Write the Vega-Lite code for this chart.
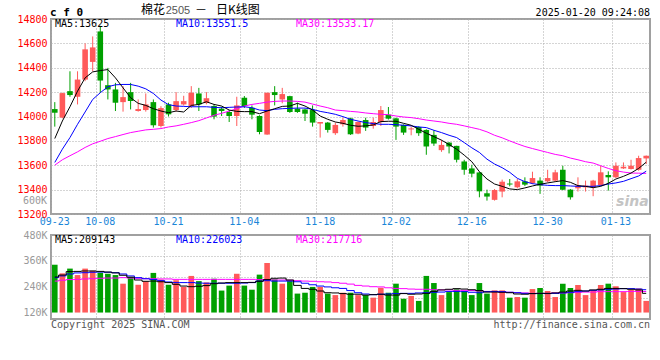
{
"$schema": "https://vega.github.io/schema/vega-lite/v6.json",
"background": "white",
"padding": {"left": 15, "top": 3, "right": 0, "bottom": 0},
"bounds": "flush",
"spacing": 21,
"config": {"view": {"stroke": "#a0a0a0", "strokeWidth": 2}, "text": {"font": "DejaVu Sans Mono"}},
"datasets": {"k": [
{"d":"09-23","o":14061,"h":14118,"l":13917,"c":14031,"m5":13819,"m10":13623,"m30":13601,"v":342000,"vm5":285000,"vm10":282000,"vm30":266000},
{"d":"09-24","o":13991,"h":14195,"l":13985,"c":14192,"m5":13963,"m10":13732,"m30":13645,"v":302000,"vm5":294000,"vm10":290000,"vm30":270000},
{"d":"09-25","o":14208,"h":14371,"l":14162,"c":14176,"m5":14080,"m10":13827,"m30":13678,"v":324000,"vm5":310000,"vm10":299000,"vm30":273000},
{"d":"09-26","o":14162,"h":14371,"l":14099,"c":14303,"m5":14208,"m10":13936,"m30":13710,"v":294000,"vm5":311000,"vm10":304000,"vm30":274000},
{"d":"09-27","o":14303,"h":14600,"l":14290,"c":14551,"m5":14317,"m10":14037,"m30":13746,"v":324000,"vm5":313000,"vm10":305000,"vm30":276000},
{"d":"09-30","o":14448,"h":14657,"l":14371,"c":14567,"m5":14366,"m10":14140,"m30":13776,"v":314000,"vm5":313000,"vm10":307000,"vm30":277000},
{"d":"10-08","o":14698,"h":14744,"l":14195,"c":14295,"m5":14377,"m10":14195,"m30":13797,"v":305000,"vm5":311000,"vm10":308000,"vm30":279000},
{"d":"10-09","o":14257,"h":14399,"l":14140,"c":14222,"m5":14385,"m10":14244,"m30":13819,"v":300000,"vm5":308000,"vm10":307000,"vm30":280000},
{"d":"10-10","o":14222,"h":14276,"l":14045,"c":14113,"m5":14317,"m10":14260,"m30":13835,"v":294000,"vm5":304000,"vm10":305000,"vm30":280000},
{"d":"10-11","o":14118,"h":14249,"l":14040,"c":14159,"m5":14235,"m10":14263,"m30":13852,"v":254000,"vm5":293000,"vm10":299000,"vm30":282000},
{"d":"10-14","o":14200,"h":14276,"l":14058,"c":14127,"m5":14154,"m10":14263,"m30":13868,"v":285000,"vm5":284000,"vm10":290000,"vm30":280000},
{"d":"10-15","o":14045,"h":14140,"l":14040,"c":14061,"m5":14108,"m10":14249,"m30":13879,"v":249000,"vm5":271000,"vm10":282000,"vm30":279000},
{"d":"10-16","o":14053,"h":14189,"l":14040,"c":14099,"m5":14091,"m10":14227,"m30":13890,"v":265000,"vm5":265000,"vm10":277000,"vm30":277000},
{"d":"10-17","o":14118,"h":14140,"l":13909,"c":13928,"m5":14064,"m10":14189,"m30":13895,"v":304000,"vm5":266000,"vm10":273000,"vm30":277000},
{"d":"10-18","o":13922,"h":14085,"l":13909,"c":14069,"m5":14045,"m10":14135,"m30":13901,"v":273000,"vm5":263000,"vm10":268000,"vm30":276000},
{"d":"10-21","o":14099,"h":14113,"l":14000,"c":14018,"m5":14031,"m10":14097,"m30":13914,"v":249000,"vm5":259000,"vm10":262000,"vm30":276000},
{"d":"10-22","o":14053,"h":14200,"l":14040,"c":14126,"m5":14045,"m10":14086,"m30":13923,"v":270000,"vm5":251000,"vm10":259000,"vm30":274000},
{"d":"10-23","o":14099,"h":14170,"l":14090,"c":14126,"m5":14037,"m10":14083,"m30":13936,"v":239000,"vm5":243000,"vm10":259000,"vm30":274000},
{"d":"10-24","o":14085,"h":14249,"l":14070,"c":14195,"m5":14091,"m10":14080,"m30":13950,"v":290000,"vm5":240000,"vm10":259000,"vm30":274000},
{"d":"10-25","o":14189,"h":14235,"l":14045,"c":14099,"m5":14099,"m10":14080,"m30":13966,"v":266000,"vm5":242000,"vm10":257000,"vm30":274000},
{"d":"10-28","o":14110,"h":14200,"l":14100,"c":14150,"m5":14121,"m10":14080,"m30":13988,"v":260000,"vm5":245000,"vm10":256000,"vm30":274000},
{"d":"10-29","o":14086,"h":14099,"l":13977,"c":13999,"m5":14099,"m10":14075,"m30":14010,"v":277000,"vm5":254000,"vm10":256000,"vm30":274000},
{"d":"10-30","o":14064,"h":14080,"l":14004,"c":14045,"m5":14086,"m10":14072,"m30":14026,"v":222000,"vm5":257000,"vm10":256000,"vm30":274000},
{"d":"10-31","o":14037,"h":14053,"l":13955,"c":14004,"m5":14053,"m10":14075,"m30":14045,"v":245000,"vm5":259000,"vm10":256000,"vm30":274000},
{"d":"11-01","o":14004,"h":14162,"l":13922,"c":14091,"m5":14042,"m10":14078,"m30":14064,"v":300000,"vm5":259000,"vm10":256000,"vm30":274000},
{"d":"11-04","o":14154,"h":14168,"l":14070,"c":14086,"m5":14040,"m10":14080,"m30":14086,"v":245000,"vm5":259000,"vm10":257000,"vm30":274000},
{"d":"11-05","o":14072,"h":14091,"l":13977,"c":14015,"m5":14040,"m10":14072,"m30":14099,"v":226000,"vm5":260000,"vm10":259000,"vm30":274000},
{"d":"11-06","o":14004,"h":14010,"l":13854,"c":13873,"m5":14023,"m10":14053,"m30":14108,"v":296000,"vm5":265000,"vm10":266000,"vm30":273000},
{"d":"11-07","o":13852,"h":14195,"l":13850,"c":14195,"m5":14045,"m10":14048,"m30":14118,"v":350000,"vm5":273000,"vm10":268000,"vm30":273000},
{"d":"11-08","o":14200,"h":14249,"l":14091,"c":14176,"m5":14064,"m10":14059,"m30":14124,"v":274000,"vm5":279000,"vm10":266000,"vm30":271000},
{"d":"11-11","o":14140,"h":14235,"l":14108,"c":14184,"m5":14083,"m10":14064,"m30":14127,"v":254000,"vm5":280000,"vm10":266000,"vm30":271000},
{"d":"11-12","o":14167,"h":14170,"l":14030,"c":14037,"m5":14086,"m10":14067,"m30":14127,"v":266000,"vm5":271000,"vm10":266000,"vm30":270000},
{"d":"11-13","o":14064,"h":14113,"l":14030,"c":14037,"m5":14108,"m10":14069,"m30":14124,"v":208000,"vm5":246000,"vm10":263000,"vm30":268000},
{"d":"11-14","o":14058,"h":14064,"l":13963,"c":14023,"m5":14086,"m10":14069,"m30":14118,"v":212000,"vm5":232000,"vm10":256000,"vm30":266000},
{"d":"11-15","o":14053,"h":14091,"l":13917,"c":13950,"m5":14053,"m10":14059,"m30":14102,"v":239000,"vm5":228000,"vm10":249000,"vm30":265000},
{"d":"11-18","o":13942,"h":13955,"l":13827,"c":13955,"m5":14004,"m10":14042,"m30":14086,"v":239000,"vm5":220000,"vm10":243000,"vm30":263000},
{"d":"11-19","o":13950,"h":13955,"l":13868,"c":13890,"m5":13977,"m10":14031,"m30":14072,"v":208000,"vm5":212000,"vm10":239000,"vm30":262000},
{"d":"11-20","o":13863,"h":13950,"l":13849,"c":13931,"m5":13955,"m10":14018,"m30":14053,"v":201000,"vm5":211000,"vm10":235000,"vm30":259000},
{"d":"11-21","o":13936,"h":13990,"l":13917,"c":13971,"m5":13944,"m10":13999,"m30":14048,"v":212000,"vm5":208000,"vm10":232000,"vm30":256000},
{"d":"11-22","o":13985,"h":13990,"l":13849,"c":13854,"m5":13928,"m10":13977,"m30":14042,"v":212000,"vm5":205000,"vm10":222000,"vm30":252000},
{"d":"11-25","o":13860,"h":13960,"l":13855,"c":13955,"m5":13920,"m10":13963,"m30":14037,"v":201000,"vm5":205000,"vm10":212000,"vm30":246000},
{"d":"11-26","o":13971,"h":13990,"l":13882,"c":13909,"m5":13923,"m10":13950,"m30":14029,"v":201000,"vm5":201000,"vm10":206000,"vm30":243000},
{"d":"11-27","o":13922,"h":13990,"l":13900,"c":13955,"m5":13931,"m10":13942,"m30":14023,"v":189000,"vm5":203000,"vm10":203000,"vm30":240000},
{"d":"11-28","o":13955,"h":14086,"l":13922,"c":14053,"m5":13958,"m10":13936,"m30":14018,"v":235000,"vm5":205000,"vm10":205000,"vm30":239000},
{"d":"11-29","o":14015,"h":14078,"l":13975,"c":13982,"m5":13961,"m10":13936,"m30":14015,"v":212000,"vm5":201000,"vm10":206000,"vm30":235000},
{"d":"12-02","o":13985,"h":13990,"l":13808,"c":13917,"m5":13961,"m10":13933,"m30":14004,"v":254000,"vm5":201000,"vm10":208000,"vm30":232000},
{"d":"12-03","o":13931,"h":13935,"l":13849,"c":13868,"m5":13944,"m10":13928,"m30":13996,"v":184000,"vm5":208000,"vm10":209000,"vm30":231000},
{"d":"12-04","o":13894,"h":13917,"l":13846,"c":13902,"m5":13928,"m10":13923,"m30":13991,"v":197000,"vm5":205000,"vm10":209000,"vm30":229000},
{"d":"12-05","o":13914,"h":13920,"l":13841,"c":13863,"m5":13895,"m10":13914,"m30":13982,"v":174000,"vm5":206000,"vm10":211000,"vm30":228000},
{"d":"12-06","o":13890,"h":13895,"l":13686,"c":13754,"m5":13863,"m10":13909,"m30":13971,"v":290000,"vm5":209000,"vm10":212000,"vm30":228000},
{"d":"12-09","o":13849,"h":13887,"l":13759,"c":13778,"m5":13835,"m10":13887,"m30":13963,"v":257000,"vm5":218000,"vm10":214000,"vm30":226000},
{"d":"12-10","o":13724,"h":13808,"l":13710,"c":13767,"m5":13806,"m10":13868,"m30":13955,"v":201000,"vm5":225000,"vm10":215000,"vm30":225000},
{"d":"12-11","o":13786,"h":13790,"l":13697,"c":13754,"m5":13770,"m10":13846,"m30":13944,"v":215000,"vm5":228000,"vm10":218000,"vm30":225000},
{"d":"12-12","o":13759,"h":13760,"l":13623,"c":13645,"m5":13732,"m10":13827,"m30":13936,"v":228000,"vm5":231000,"vm10":218000,"vm30":223000},
{"d":"12-13","o":13631,"h":13645,"l":13522,"c":13563,"m5":13683,"m10":13786,"m30":13923,"v":220000,"vm5":229000,"vm10":217000,"vm30":223000},
{"d":"12-16","o":13574,"h":13604,"l":13501,"c":13531,"m5":13629,"m10":13743,"m30":13909,"v":201000,"vm5":226000,"vm10":214000,"vm30":222000},
{"d":"12-17","o":13541,"h":13545,"l":13337,"c":13386,"m5":13547,"m10":13705,"m30":13895,"v":257000,"vm5":222000,"vm10":212000,"vm30":220000},
{"d":"12-18","o":13370,"h":13400,"l":13310,"c":13343,"m5":13487,"m10":13650,"m30":13874,"v":208000,"vm5":215000,"vm10":217000,"vm30":218000},
{"d":"12-19","o":13316,"h":13405,"l":13310,"c":13397,"m5":13446,"m10":13610,"m30":13846,"v":223000,"vm5":215000,"vm10":218000,"vm30":217000},
{"d":"12-20","o":13384,"h":13482,"l":13337,"c":13465,"m5":13427,"m10":13580,"m30":13825,"v":223000,"vm5":214000,"vm10":217000,"vm30":215000},
{"d":"12-23","o":13450,"h":13487,"l":13427,"c":13442,"m5":13406,"m10":13542,"m30":13800,"v":189000,"vm5":212000,"vm10":214000,"vm30":214000},
{"d":"12-24","o":13419,"h":13487,"l":13410,"c":13468,"m5":13400,"m10":13493,"m30":13776,"v":192000,"vm5":206000,"vm10":212000,"vm30":212000},
{"d":"12-25","o":13468,"h":13501,"l":13430,"c":13441,"m5":13414,"m10":13465,"m30":13754,"v":189000,"vm5":205000,"vm10":209000,"vm30":211000},
{"d":"12-26","o":13454,"h":13547,"l":13445,"c":13495,"m5":13430,"m10":13449,"m30":13737,"v":229000,"vm5":208000,"vm10":208000,"vm30":209000},
{"d":"12-27","o":13474,"h":13501,"l":13365,"c":13433,"m5":13444,"m10":13441,"m30":13721,"v":234000,"vm5":209000,"vm10":208000,"vm30":209000},
{"d":"12-30","o":13468,"h":13563,"l":13460,"c":13495,"m5":13455,"m10":13435,"m30":13705,"v":220000,"vm5":209000,"vm10":208000,"vm30":209000},
{"d":"12-31","o":13474,"h":13563,"l":13465,"c":13542,"m5":13465,"m10":13433,"m30":13689,"v":192000,"vm5":211000,"vm10":209000,"vm30":211000},
{"d":"01-02","o":13563,"h":13596,"l":13395,"c":13400,"m5":13474,"m10":13433,"m30":13678,"v":254000,"vm5":215000,"vm10":211000,"vm30":211000},
{"d":"01-03","o":13400,"h":13405,"l":13318,"c":13337,"m5":13460,"m10":13430,"m30":13659,"v":234000,"vm5":220000,"vm10":214000,"vm30":212000},
{"d":"01-06","o":13411,"h":13501,"l":13384,"c":13433,"m5":13433,"m10":13427,"m30":13645,"v":248000,"vm5":223000,"vm10":217000,"vm30":214000},
{"d":"01-07","o":13419,"h":13474,"l":13384,"c":13433,"m5":13427,"m10":13427,"m30":13629,"v":201000,"vm5":220000,"vm10":220000,"vm30":215000},
{"d":"01-08","o":13419,"h":13480,"l":13346,"c":13474,"m5":13416,"m10":13427,"m30":13618,"v":223000,"vm5":225000,"vm10":223000,"vm30":215000},
{"d":"01-09","o":13438,"h":13596,"l":13430,"c":13542,"m5":13427,"m10":13433,"m30":13596,"v":248000,"vm5":228000,"vm10":225000,"vm30":217000},
{"d":"01-10","o":13520,"h":13550,"l":13392,"c":13501,"m5":13452,"m10":13446,"m30":13574,"v":254000,"vm5":232000,"vm10":228000,"vm30":217000},
{"d":"01-13","o":13501,"h":13623,"l":13495,"c":13596,"m5":13487,"m10":13455,"m30":13555,"v":242000,"vm5":232000,"vm10":229000,"vm30":217000},
{"d":"01-14","o":13574,"h":13623,"l":13570,"c":13588,"m5":13509,"m10":13468,"m30":13544,"v":215000,"vm5":231000,"vm10":231000,"vm30":217000},
{"d":"01-15","o":13569,"h":13645,"l":13565,"c":13596,"m5":13536,"m10":13490,"m30":13536,"v":226000,"vm5":228000,"vm10":231000,"vm30":218000},
{"d":"01-16","o":13563,"h":13678,"l":13555,"c":13659,"m5":13574,"m10":13512,"m30":13535,"v":232000,"vm5":225000,"vm10":229000,"vm30":218000},
{"d":"01-17","o":13656,"h":13680,"l":13610,"c":13678,"m5":13625,"m10":13551.5,"m30":13533.17,"v":174000,"vm5":209143,"vm10":226023,"vm30":217716}
]},
"vconcat": [
{
 "width": 599, "height": 195,
 "resolve": {"axis": {"x": "independent", "y": "independent"}},
 "layer": [
  {"data": {"name": "k"},
   "mark": {"type": "rule", "strokeWidth": 1},
   "encoding": {
    "x": {"field": "d", "type": "ordinal",
          "scale": {"type": "band", "paddingInner": 0, "paddingOuter": 0, "domain": ["09-23","09-24","09-25","09-26","09-27","09-30","10-08","10-09","10-10","10-11","10-14","10-15","10-16","10-17","10-18","10-21","10-22","10-23","10-24","10-25","10-28","10-29","10-30","10-31","11-01","11-04","11-05","11-06","11-07","11-08","11-11","11-12","11-13","11-14","11-15","11-18","11-19","11-20","11-21","11-22","11-25","11-26","11-27","11-28","11-29","12-02","12-03","12-04","12-05","12-06","12-09","12-10","12-11","12-12","12-13","12-16","12-17","12-18","12-19","12-20","12-23","12-24","12-25","12-26","12-27","12-30","12-31","01-02","01-03","01-06","01-07","01-08","01-09","01-10","01-13","01-14","01-15","01-16","01-17"]},
          "axis": {"values": ["09-23","10-08","10-21","11-04","11-18","12-02","12-16","12-30","01-13"], "bandPosition": 0, "grid": true, "gridColor": "#aaaaaa", "gridDash": [1, 2], "domain": false, "ticks": false, "labelColor": "#1a86d8", "labelFont": "DejaVu Sans Mono", "labelFontSize": 10, "labelPadding": 2, "labelAngle": 0, "title": null, "labelOverlap": false, "labelFlush": false, "labelBound": false}},
    "y": {"field": "l", "type": "quantitative",
          "scale": {"domain": [13200, 14800], "zero": false, "nice": false},
          "axis": {"values": [13200, 13400, 13600, 13800, 14000, 14200, 14400, 14600, 14800], "grid": true, "gridColor": "#aaaaaa", "gridDash": [1, 2], "domain": false, "ticks": false, "labelColor": "#ff0000", "labelFont": "DejaVu Sans Mono", "labelFontSize": 10, "labelPadding": 4, "title": null, "labelFlush": false, "labelBound": false, "labelOverlap": false, "format": "d"}},
    "y2": {"field": "h"},
    "color": {"condition": {"test": "datum.c >= datum.o", "value": "#ff5a5a"}, "value": "#00a000"}
   }},
  {"data": {"values": [{}]},
   "mark": {"type": "text", "text": "sina", "align": "left", "baseline": "middle", "dx": 4, "font": "DejaVu Sans", "fontSize": 14, "fontStyle": "italic", "fontWeight": "bold", "color": "#c4c4c4"},
   "encoding": {
    "x": {"datum": "01-13", "type": "ordinal", "bandPosition": 0, "axis": null},
    "y": {"datum": 13300, "type": "quantitative", "axis": null}
   }},
  {"data": {"name": "k"},
   "mark": {"type": "bar", "size": 5.6},
   "encoding": {
    "x": {"field": "d", "type": "ordinal", "axis": null},
    "y": {"field": "o", "type": "quantitative", "axis": null},
    "y2": {"field": "c"},
    "color": {"condition": {"test": "datum.c >= datum.o", "value": "#ff5a5a"}, "value": "#00a000"}
   }},
  {"data": {"name": "k"},
   "mark": {"type": "line", "color": "#ff00ff", "strokeWidth": 1},
   "encoding": {"x": {"field": "d", "type": "ordinal", "axis": null}, "y": {"field": "m30", "type": "quantitative", "axis": null}}},
  {"data": {"name": "k"},
   "mark": {"type": "line", "color": "#0000ff", "strokeWidth": 1},
   "encoding": {"x": {"field": "d", "type": "ordinal", "axis": null}, "y": {"field": "m10", "type": "quantitative", "axis": null}}},
  {"data": {"name": "k"},
   "mark": {"type": "line", "color": "#000000", "strokeWidth": 1},
   "encoding": {"x": {"field": "d", "type": "ordinal", "axis": null}, "y": {"field": "m5", "type": "quantitative", "axis": null}}},
  {"data": {"values": [{}]},
   "mark": {"type": "text", "text": "MA5:13625", "align": "left", "baseline": "middle", "dx": 4, "dy": 5, "fontSize": 10, "color": "#000000"},
   "encoding": {"x": {"datum": "09-23", "type": "ordinal", "bandPosition": 0, "axis": null}, "y": {"datum": 14800, "type": "quantitative", "axis": null}}},
  {"data": {"values": [{}]},
   "mark": {"type": "text", "text": "MA10:13551.5", "align": "left", "baseline": "middle", "dx": 3.7, "dy": 5, "fontSize": 10, "color": "#0000ff"},
   "encoding": {"x": {"datum": "10-22", "type": "ordinal", "bandPosition": 0, "axis": null}, "y": {"datum": 14800, "type": "quantitative", "axis": null}}},
  {"data": {"values": [{}]},
   "mark": {"type": "text", "text": "MA30:13533.17", "align": "left", "baseline": "middle", "dx": 2.4, "dy": 5, "fontSize": 10, "color": "#ff00ff"},
   "encoding": {"x": {"datum": "11-13", "type": "ordinal", "bandPosition": 0, "axis": null}, "y": {"datum": 14800, "type": "quantitative", "axis": null}}},
  {"data": {"values": [{}]},
   "mark": {"type": "text", "text": "c f 0", "align": "left", "baseline": "middle", "dx": -1, "dy": -6, "fontSize": 11, "fontWeight": "bold", "color": "#000000"},
   "encoding": {"x": {"datum": "09-23", "type": "ordinal", "bandPosition": 0, "axis": null}, "y": {"datum": 14800, "type": "quantitative", "axis": null}}},
  {"data": {"values": [{}]},
   "mark": {"type": "text", "text": "棉花", "align": "left", "baseline": "middle", "dx": -1, "dy": -9, "font": "Noto Sans CJK SC", "fontSize": 12, "color": "#000000"},
   "encoding": {"x": {"datum": "10-16", "type": "ordinal", "bandPosition": 0, "axis": null}, "y": {"datum": 14800, "type": "quantitative", "axis": null}}},
  {"data": {"values": [{}]},
   "mark": {"type": "text", "text": "2505", "align": "left", "baseline": "middle", "dx": 1, "dy": -8.5, "font": "Liberation Sans", "fontSize": 11, "color": "#555555"},
   "encoding": {"x": {"datum": "10-21", "type": "ordinal", "bandPosition": 0, "axis": null}, "y": {"datum": 14800, "type": "quantitative", "axis": null}}},
  {"data": {"values": [{}]},
   "mark": {"type": "text", "text": "－", "align": "center", "baseline": "middle", "dx": -1.6, "dy": -9, "font": "Noto Sans CJK SC", "fontSize": 12, "color": "#000000"},
   "encoding": {"x": {"datum": "10-28", "type": "ordinal", "bandPosition": 0, "axis": null}, "y": {"datum": 14800, "type": "quantitative", "axis": null}}},
  {"data": {"values": [{}]},
   "mark": {"type": "text", "text": "日K线图", "align": "left", "baseline": "middle", "dx": -1.8, "dy": -9, "font": "Noto Sans CJK SC", "fontSize": 12, "color": "#000000"},
   "encoding": {"x": {"datum": "10-30", "type": "ordinal", "bandPosition": 0, "axis": null}, "y": {"datum": 14800, "type": "quantitative", "axis": null}}},
  {"data": {"values": [{}]},
   "mark": {"type": "text", "text": "2025-01-20 09:24:08", "align": "right", "baseline": "middle", "dy": -6.5, "fontSize": 10, "color": "#000000"},
   "encoding": {"x": {"datum": "01-17", "type": "ordinal", "bandPosition": 1, "axis": null}, "y": {"datum": 14800, "type": "quantitative", "axis": null}}},
  {"data": {"values": [{}]},
   "mark": {"type": "text", "text": "600K", "align": "right", "baseline": "middle", "dx": -4, "fontSize": 10, "color": "#999999"},
   "encoding": {"x": {"datum": "09-23", "type": "ordinal", "bandPosition": 0, "axis": null}, "y": {"datum": 13310, "type": "quantitative", "axis": null}}}
 ]
},
{
 "width": 599, "height": 84,
 "resolve": {"axis": {"x": "independent", "y": "independent"}},
 "layer": [
  {"data": {"name": "k"},
   "mark": {"type": "bar", "size": 5.6},
   "encoding": {
    "x": {"field": "d", "type": "ordinal",
          "scale": {"type": "band", "paddingInner": 0, "paddingOuter": 0, "domain": ["09-23","09-24","09-25","09-26","09-27","09-30","10-08","10-09","10-10","10-11","10-14","10-15","10-16","10-17","10-18","10-21","10-22","10-23","10-24","10-25","10-28","10-29","10-30","10-31","11-01","11-04","11-05","11-06","11-07","11-08","11-11","11-12","11-13","11-14","11-15","11-18","11-19","11-20","11-21","11-22","11-25","11-26","11-27","11-28","11-29","12-02","12-03","12-04","12-05","12-06","12-09","12-10","12-11","12-12","12-13","12-16","12-17","12-18","12-19","12-20","12-23","12-24","12-25","12-26","12-27","12-30","12-31","01-02","01-03","01-06","01-07","01-08","01-09","01-10","01-13","01-14","01-15","01-16","01-17"]},
          "axis": {"values": ["09-23","10-08","10-21","11-04","11-18","12-02","12-16","12-30","01-13"], "bandPosition": 0, "grid": true, "gridColor": "#aaaaaa", "gridDash": [1, 2], "domain": false, "ticks": false, "labels": false, "title": null}},
    "y": {"field": "v", "type": "quantitative",
          "scale": {"domain": [90000, 480000], "zero": false, "nice": false},
          "axis": {"values": [120000, 240000, 360000, 480000], "labelExpr": "(datum.value / 1000) + 'K'", "grid": false, "domain": false, "ticks": false, "labelColor": "#999999", "labelFont": "DejaVu Sans Mono", "labelFontSize": 10, "labelPadding": 4, "title": null, "labelFlush": false, "labelBound": false, "labelOverlap": false}},
    "y2": {"datum": 120000},
    "color": {"condition": {"test": "datum.c >= datum.o", "value": "#ff5a5a"}, "value": "#00a000"}
   }},
  {"data": {"name": "k"},
   "mark": {"type": "line", "color": "#ff00ff", "strokeWidth": 1, "interpolate": "step"},
   "encoding": {"x": {"field": "d", "type": "ordinal", "axis": null},
    "y": {"field": "vm30", "type": "quantitative",
          "axis": {"orient": "right", "values": [187500, 285000, 382500], "grid": true, "gridColor": "#aaaaaa", "gridDash": [1, 2], "labels": false, "ticks": false, "domain": false, "title": null}}}},
  {"data": {"name": "k"},
   "mark": {"type": "line", "color": "#0000ff", "strokeWidth": 1, "interpolate": "step"},
   "encoding": {"x": {"field": "d", "type": "ordinal", "axis": null}, "y": {"field": "vm10", "type": "quantitative", "axis": null}}},
  {"data": {"name": "k"},
   "mark": {"type": "line", "color": "#000000", "strokeWidth": 1, "interpolate": "step"},
   "encoding": {"x": {"field": "d", "type": "ordinal", "axis": null}, "y": {"field": "vm5", "type": "quantitative", "axis": null}}},
  {"data": {"values": [{}]},
   "mark": {"type": "text", "text": "MA5:209143", "align": "left", "baseline": "middle", "dx": 4, "dy": 4.5, "fontSize": 10, "color": "#000000"},
   "encoding": {"x": {"datum": "09-23", "type": "ordinal", "bandPosition": 0, "axis": null}, "y": {"datum": 480000, "type": "quantitative", "axis": null}}},
  {"data": {"values": [{}]},
   "mark": {"type": "text", "text": "MA10:226023", "align": "left", "baseline": "middle", "dx": 3.7, "dy": 4.5, "fontSize": 10, "color": "#0000ff"},
   "encoding": {"x": {"datum": "10-22", "type": "ordinal", "bandPosition": 0, "axis": null}, "y": {"datum": 480000, "type": "quantitative", "axis": null}}},
  {"data": {"values": [{}]},
   "mark": {"type": "text", "text": "MA30:217716", "align": "left", "baseline": "middle", "dx": 2.4, "dy": 4.5, "fontSize": 10, "color": "#ff00ff"},
   "encoding": {"x": {"datum": "11-13", "type": "ordinal", "bandPosition": 0, "axis": null}, "y": {"datum": 480000, "type": "quantitative", "axis": null}}},
  {"data": {"values": [{}]},
   "mark": {"type": "text", "text": "Copyright 2025 SINA.COM", "align": "left", "baseline": "middle", "dx": 0, "dy": 5.5, "fontSize": 10, "color": "#555555"},
   "encoding": {"x": {"datum": "09-23", "type": "ordinal", "bandPosition": 0, "axis": null}, "y": {"datum": 90000, "type": "quantitative", "axis": null}}},
  {"data": {"values": [{}]},
   "mark": {"type": "text", "text": "http://finance.sina.com.cn", "align": "right", "baseline": "middle", "dy": 5.5, "fontSize": 10, "color": "#555555"},
   "encoding": {"x": {"datum": "01-17", "type": "ordinal", "bandPosition": 1, "axis": null}, "y": {"datum": 90000, "type": "quantitative", "axis": null}}}
 ]
}
]
}
